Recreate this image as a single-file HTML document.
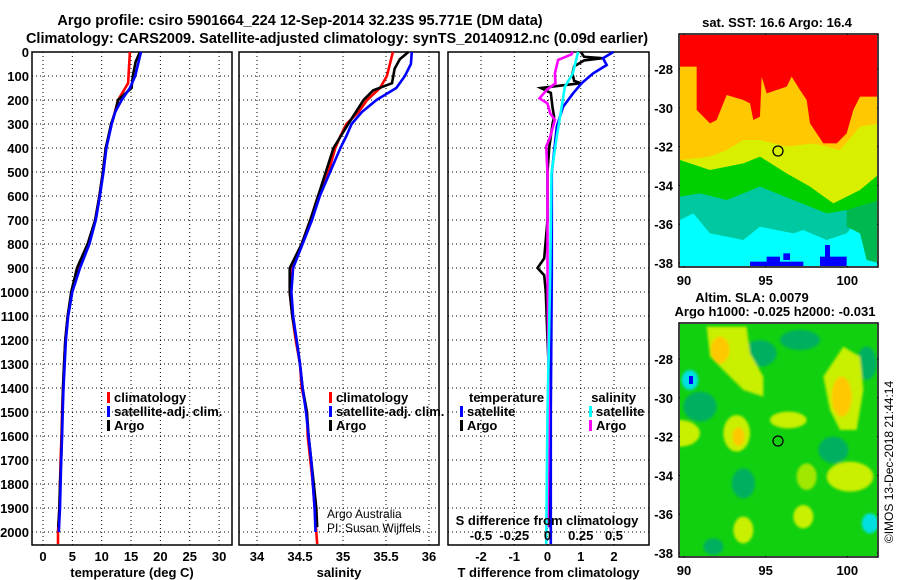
<!DOCTYPE html>
<html><head><meta charset="utf-8">
<style>
html,body{margin:0;padding:0;background:#fff;}
svg{display:block;font-family:"Liberation Sans",sans-serif;}
.b{font-weight:bold;font-size:13px;}
</style></head>
<body>
<svg id="chart" width="900" height="580" viewBox="0 0 900 580" xmlns="http://www.w3.org/2000/svg">
<rect width="900" height="580" fill="#fff"/>
<text x="300" y="25" text-anchor="middle" font-weight="bold" font-size="14.5">Argo profile: csiro 5901664_224 12-Sep-2014 32.23S 95.771E (DM data)</text>
<text x="337" y="43" text-anchor="middle" font-weight="bold" font-size="14.5">Climatology: CARS2009. Satellite-adjusted climatology: synTS_20140912.nc (0.09d earlier)</text>
<g id="panels"></g>

<defs>
<clipPath id="m1"><rect x="680" y="35" width="197" height="231"/></clipPath>
<clipPath id="m2"><rect x="680" y="324" width="197" height="232"/></clipPath>
<filter id="bl"><feGaussianBlur stdDeviation="4"/></filter>
</defs>

<!-- SST map -->
<g>
<text x="777" y="27" text-anchor="middle" class="b">sat. SST: 16.6 Argo: 16.4</text>
<g clip-path="url(#m1)">
<g transform="translate(660,0) scale(0.33333)">
<rect x="60" y="100" width="600" height="710" fill="#00ffff"/>
<polygon fill="#00c8a0" points="60,100 660,100 660,700 600,650 560,700 500,720 430,690 400,700 300,680 250,720 150,700 100,640 60,660"/>
<polygon fill="#00b850" points="560,560 660,560 660,790 620,780 600,700 560,680"/>
<polygon fill="#00d000" points="60,100 660,100 660,600 560,630 500,640 400,600 300,560 200,600 120,580 60,590"/>
<polygon fill="#d8f000" points="60,100 660,100 660,520 600,570 520,610 450,560 380,520 300,470 250,490 150,510 60,480"/>
<polygon fill="#ffc800" points="60,100 660,100 660,370 600,380 540,450 460,430 380,440 300,420 250,420 200,450 150,470 60,480"/>
<polygon fill="#ff0000" points="60,100 660,100 660,290 600,290 580,330 560,400 530,430 490,430 470,400 450,370 440,300 420,270 395,230 380,260 320,280 305,230 300,350 280,360 270,310 250,300 200,285 170,360 150,370 110,330 110,200 60,200"/>
<rect x="270" y="785" width="160" height="20" fill="#0000ff"/>
<rect x="320" y="770" width="40" height="20" fill="#0000ff"/>
<rect x="495" y="735" width="15" height="60" fill="#0000ff"/>
<rect x="480" y="770" width="80" height="30" fill="#0000ff"/>
<rect x="370" y="760" width="20" height="20" fill="#0000ff"/>
</g></g>
<rect x="679" y="34" width="199" height="233" fill="none" stroke="#000" stroke-width="1.5"/>
<circle cx="778" cy="151" r="5" fill="none" stroke="#000" stroke-width="1.3"/>
</g>

<!-- SLA map -->
<g>
<text x="752" y="302" text-anchor="middle" class="b">Altim. SLA: 0.0079</text>
<text x="775" y="316" text-anchor="middle" class="b">Argo h1000: -0.025 h2000: -0.031</text>
<g clip-path="url(#m2)">
<rect x="680" y="324" width="197" height="232" fill="#10d010"/>
<g transform="translate(660,290) scale(0.33333)" filter="url(#bl)">
<ellipse cx="300" cy="190" rx="50" ry="40" fill="#00b060"/>
<ellipse cx="120" cy="350" rx="50" ry="45" fill="#00b060"/>
<ellipse cx="520" cy="480" rx="45" ry="40" fill="#00b060"/>
<ellipse cx="250" cy="580" rx="35" ry="45" fill="#00b060"/>
<ellipse cx="420" cy="150" rx="60" ry="30" fill="#00b060"/>
<ellipse cx="620" cy="220" rx="30" ry="50" fill="#00b060"/>
<ellipse cx="160" cy="770" rx="30" ry="25" fill="#00b060"/>
<polygon fill="#c8f000" points="140,110 260,110 270,190 310,260 310,320 250,300 200,250 150,200"/>
<ellipse cx="180" cy="180" rx="28" ry="40" fill="#ffc800"/>
<polygon fill="#c8f000" points="490,260 550,170 600,200 610,300 590,420 540,420 510,360"/>
<ellipse cx="545" cy="320" rx="30" ry="60" fill="#ffc800"/>
<ellipse cx="60" cy="430" rx="60" ry="40" fill="#c8f000"/>
<ellipse cx="230" cy="430" rx="40" ry="55" fill="#c8f000"/>
<ellipse cx="235" cy="440" rx="18" ry="28" fill="#ffc800"/>
<ellipse cx="385" cy="390" rx="55" ry="25" fill="#c8f000"/>
<ellipse cx="570" cy="560" rx="70" ry="45" fill="#c8f000"/>
<ellipse cx="440" cy="560" rx="30" ry="40" fill="#a0e800"/>
<ellipse cx="250" cy="720" rx="30" ry="40" fill="#c8f000"/>
<ellipse cx="430" cy="680" rx="30" ry="35" fill="#c8f000"/>
<ellipse cx="90" cy="270" rx="25" ry="30" fill="#00e0e0"/>
<ellipse cx="630" cy="700" rx="25" ry="30" fill="#00e0e0"/>
</g>
<rect x="689" y="376" width="4" height="8" fill="#0000ff"/>
</g>
<rect x="679" y="323" width="199" height="234" fill="none" stroke="#000" stroke-width="1.5"/>
<circle cx="778" cy="441" r="5" fill="none" stroke="#000" stroke-width="1.3"/>
</g>
<text transform="translate(893,462) rotate(-90)" text-anchor="middle" font-size="12">©IMOS 13-Dec-2018 21:44:14</text>
<text x="327" y="518" font-size="12">Argo Australia</text>
<text x="327" y="532" font-size="12">PI: Susan Wijffels</text>

<script>
// ---------- data ----------
const depthTicks = [0,100,200,300,400,500,600,700,800,900,1000,1100,1200,1300,1400,1500,1600,1700,1800,1900,2000];
const tempTicks = [0,5,10,15,20,25,30];
const salTicks = [34,34.5,35,35.5,36];
const salTickLabels = ["34","34.5","35","35.5","36"];
const tdiffTicks = [-2,-1,0,1,2];
const sdiffTickLabels = ["-0.5","-0.25","0","0.25","0.5"];
const latTicks = [-28,-30,-32,-34,-36,-38];
const lonTicks = [90,95,100];

const tClimDepth = [0,130,200,300,400,500,600,700,800,900,1000,1100,1200,1300,1400,1500,1600,1700,1800,1900,2000,2050];
const tClim = [14.8,14.5,12.8,11.7,10.7,10.2,9.6,8.9,7.7,6.0,4.9,4.2,3.8,3.6,3.4,3.25,3.15,3.0,2.9,2.8,2.55,2.55];
const tSatDepth = [0,50,100,150,200,250,300,400,500,600,700,800,900,1000,1100,1200,1300,1400,1500,1600,1700,1800,1900,2000];
const tSat = [16.7,16.2,15.7,14.8,13.4,12.3,11.7,10.8,10.3,9.7,9.0,7.9,6.3,5.0,4.3,3.9,3.7,3.5,3.35,3.25,3.1,3.0,2.9,2.7];
const tArgoDepth = [0,40,100,150,180,200,250,300,400,500,600,700,800,900,1000,1100,1200,1300,1400,1500,1600,1700,1800,1900,1980];
const tArgo = [16.5,15.8,15.3,15.1,13.7,12.8,12.3,11.6,10.7,10.2,9.6,8.9,7.6,5.8,4.8,4.2,3.8,3.6,3.4,3.3,3.2,3.1,2.9,2.8,2.6];

const sClimDepth = [0,100,150,200,250,300,350,400,500,600,700,800,900,1000,1100,1200,1300,1400,1500,1600,1700,1800,1900,2000,2050];
const sClim = [35.58,35.51,35.43,35.28,35.18,35.04,34.97,34.91,34.83,34.71,34.62,34.52,34.40,34.38,34.41,34.45,34.50,34.52,34.58,34.59,34.62,34.65,34.67,34.69,34.70];
const sSatDepth = [0,50,100,150,200,250,300,350,400,500,600,700,800,900,1000,1100,1200,1300,1400,1500,1600,1700,1800,1900,2000];
const sSat = [35.80,35.79,35.72,35.62,35.39,35.22,35.10,35.04,34.97,34.85,34.73,34.64,34.53,34.42,34.40,34.42,34.46,34.50,34.53,34.57,34.60,34.63,34.65,34.67,34.68];
const sArgoDepth = [0,30,70,130,160,200,300,400,500,600,700,800,900,1000,1100,1200,1300,1400,1500,1600,1700,1800,1900,1980];
const sArgo = [35.76,35.66,35.60,35.57,35.35,35.24,35.06,34.89,34.80,34.71,34.62,34.52,34.38,34.38,34.41,34.46,34.50,34.53,34.58,34.60,34.63,34.66,34.69,34.70];

const dTSatDepth = [0,26,54,89,130,172,228,311,505,922,1500,2050];
const dTSat = [1.98,1.67,1.78,1.37,1.03,0.77,0.47,0.28,0.13,0.13,0.1,0.1];
const dTArgoDepth = [0,20,26,35,60,90,120,130,140,150,170,230,270,300,400,500,700,860,900,930,1000,1200,1500,1700,1980];
const dTArgo = [1.0,1.1,1.65,1.1,0.8,0.75,0.8,1.0,0.4,-0.2,0.1,0.15,0.2,0.15,0.05,0.0,0.0,-0.1,-0.3,-0.1,-0.05,0.0,0.1,0.05,0.05];
const dSSatDepth = [0,89,145,228,353,505,922,1500,2050];
const dSSat = [0.23,0.19,0.13,0.107,0.07,0.03,0.02,0.0,-0.01];
const dSArgoDepth = [0,10,33,89,130,158,193,214,256,283,353,394,505,900,1500,1980];
const dSArgo = [0.19,0.18,0.08,0.056,0.06,-0.006,-0.06,0.0,0.02,0.056,0.02,-0.01,0.0,0.0,0.01,0.0];

// ---------- axes ----------
const NS="http://www.w3.org/2000/svg";
const yTop=52, yBot=545;
const yD = d => yTop + d*0.24;
const xT = v => 43 + v*5.87;
const xS = v => 257 + (v-34)*86;
const xDT = v => 547.5 + v*33.25;
const xDS = v => 547.5 + v*133;
const g = document.getElementById('panels');

function mk(tag, attrs, parent){ const e=document.createElementNS(NS,tag); for(const k in attrs) e.setAttribute(k,attrs[k]); (parent||g).appendChild(e); return e; }

function panel(name, x0, x1, xticks, xfn, labels, title, showDepth){
  const pg = mk('g',{});
  
  
  depthTicks.forEach(d=>{ mk('line',{x1:x0,x2:x1,y1:yD(d),y2:yD(d),stroke:'#000','stroke-width':1,'stroke-dasharray':'1,3'},pg); });
  xticks.forEach((t,i)=>{
    mk('line',{x1:xfn(t),x2:xfn(t),y1:yTop,y2:yBot,stroke:'#000','stroke-width':1,'stroke-dasharray':'1,3'},pg);
    const tx=mk('text',{x:xfn(t),y:561,'text-anchor':'middle',class:'b'},pg); tx.textContent=labels[i];
    
    
  });
  if(showDepth) depthTicks.forEach(d=>{
    const tx=mk('text',{x:29,y:yD(d)+5,'text-anchor':'end',class:'b'},pg); tx.textContent=d;
    
    
  });
  const tt=mk('text',{x:(x0+x1)/2,y:577,'text-anchor':'middle',class:'b'},pg); tt.textContent=title;
  
  
  mk('rect',{x:x0,y:yTop,width:x1-x0,height:yBot-yTop,fill:'none',stroke:'#000','stroke-width':1.5},pg);
  return pg;
}
function line(pg, name, depths, vals, xfn, color){
  const pts = depths.map((d,i)=> xfn(vals[i]).toFixed(1)+','+yD(d).toFixed(1)).join(' ');
  const p = mk('polyline',{points:pts,fill:'none',stroke:color,'stroke-width':2.6,'stroke-linejoin':'miter'},pg);
  
  
}
function legend(pg, x, y, color, label, name){
  mk('rect',{x:x,y:y-10,width:3,height:11,fill:color},pg);
  const t=mk('text',{x:x+7,y:y,class:'b'},pg); t.textContent=label;
  
  
}

const p1 = panel('temperature-panel',32,232,tempTicks,xT,tempTicks.map(String),'temperature (deg C)',true);
line(p1,'temp-climatology-line',tClimDepth,tClim,xT,'#ff0000');
line(p1,'temp-argo-line',tArgoDepth,tArgo,xT,'#000000');
line(p1,'temp-satellite-line',tSatDepth,tSat,xT,'#0000ff');
legend(p1,107,402,'#ff0000','climatology','legend-climatology');
legend(p1,107,416,'#0000ff','satellite-adj. clim.','legend-satellite');
legend(p1,107,430,'#000000','Argo','legend-argo');

const p2 = panel('salinity-panel',239,439,salTicks,xS,salTickLabels,'salinity',false);
line(p2,'sal-climatology-line',sClimDepth,sClim,xS,'#ff0000');
line(p2,'sal-argo-line',sArgoDepth,sArgo,xS,'#000000');
line(p2,'sal-satellite-line',sSatDepth,sSat,xS,'#0000ff');
legend(p2,329,402,'#ff0000','climatology','legend-climatology');
legend(p2,329,416,'#0000ff','satellite-adj. clim.','legend-satellite');
legend(p2,329,430,'#000000','Argo','legend-argo');

const p3 = panel('difference-panel',448,649,tdiffTicks,xDT,tdiffTicks.map(String),'T difference from climatology',false);
line(p3,'t-diff-argo-line',dTArgoDepth,dTArgo,xDT,'#000000');
line(p3,'t-diff-satellite-line',dTSatDepth,dTSat,xDT,'#0000ff');
line(p3,'s-diff-argo-line',dSArgoDepth,dSArgo,xDS,'#ff00ff');
line(p3,'s-diff-satellite-line',dSSatDepth,dSSat,xDS,'#00ffff');
{ const t=mk('text',{x:469,y:402,class:'b'},p3); t.textContent='temperature';
  
  
  const s=mk('text',{x:636,y:402,class:'b','text-anchor':'end'},p3); s.textContent='salinity';
  
   }
legend(p3,460,416,'#0000ff','satellite','legend-t-satellite');
legend(p3,460,430,'#000000','Argo','legend-t-argo');
legend(p3,589,416,'#00ffff','satellite','legend-s-satellite');
legend(p3,589,430,'#ff00ff','Argo','legend-s-argo');
{ const t=mk('text',{x:547,y:525,class:'b','text-anchor':'middle'},p3); t.textContent='S difference from climatology';
  
   }
sdiffTickLabels.forEach((l,i)=>{
  const t=mk('text',{x:xDT(tdiffTicks[i]),y:540,class:'b','text-anchor':'middle'},p3); t.textContent=l;
  
  
});

// map ticks
function mapAxes(y0, name){
  const lonX = v => 684 + (v-90)*16.33;
  latTicks.forEach(v=>{
    const y = y0 + 69 + (-v-28)*19.4;
    mk('line',{x1:679,x2:683,y1:y,y2:y,stroke:'#000'});
    mk('line',{x1:874,x2:878,y1:y,y2:y,stroke:'#000'});
    const t=mk('text',{x:673,y:y+5,class:'b','text-anchor':'end'}); t.textContent=v;
    
    
  });
  lonTicks.forEach(v=>{
    const x = lonX(v), yb = y0 + 267;
    mk('line',{x1:x,x2:x,y1:yb,y2:yb-4,stroke:'#000'});
    mk('line',{x1:x,x2:x,y1:y0+34,y2:y0+38,stroke:'#000'});
    const t=mk('text',{x:x,y:yb+18,class:'b','text-anchor':'middle'}); t.textContent=v;
    
    
  });
}
mapAxes(0,'sst-map');
mapAxes(290,'sla-map');
</script>
</svg>
</body></html>
